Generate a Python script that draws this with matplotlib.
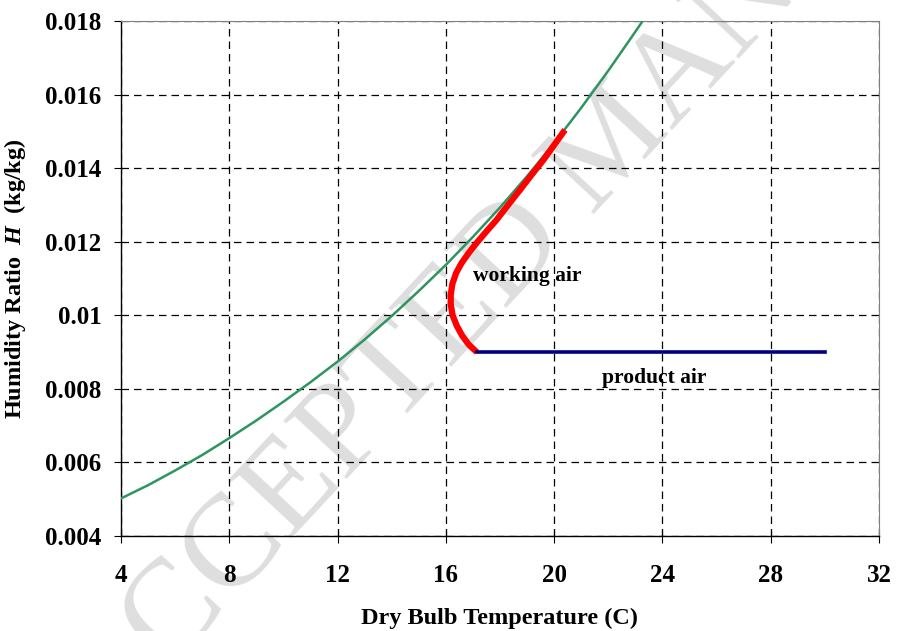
import numpy as np
import matplotlib
matplotlib.use("Agg")
import matplotlib.pyplot as plt

plt.rcParams["font.family"] = ["Liberation Serif", "DejaVu Serif"]
plt.rcParams["font.weight"] = "bold"
plt.rcParams["mathtext.fontset"] = "custom"
plt.rcParams["mathtext.it"] = "Liberation Serif:italic:bold"

# saturation curve
sat_t = [4, 5, 6, 7, 8, 9, 10, 11, 12, 13, 14, 15, 16, 17, 18, 19, 20, 21, 22, 23, 23.27]
sat_h = [0.00502, 0.00538, 0.00578, 0.00620, 0.00666, 0.00714, 0.00765, 0.00818,
         0.00874, 0.00934, 0.00998, 0.01066, 0.01137, 0.01213, 0.01293, 0.01378,
         0.01468, 0.01564, 0.01665, 0.01771, 0.0180]

# working air
work_t = [17.14, 16.85, 16.60, 16.40, 16.25, 16.18, 16.18, 16.24, 16.38, 16.58,
          16.85, 17.14, 17.50, 17.87, 18.30, 18.74, 19.17, 19.60, 20.00, 20.40]
work_h = [0.00900, 0.00920, 0.00945, 0.00972, 0.01000, 0.01030, 0.01055, 0.01085,
          0.01115, 0.01142, 0.01170, 0.01197, 0.01228, 0.01259, 0.01300, 0.01341,
          0.01382, 0.01422, 0.01463, 0.01504]

# product air
prod_t = [17.14, 30.0]
prod_h = [0.009, 0.009]

xticks = [4, 8, 12, 16, 20, 24, 28, 32]
yticks = [0.004, 0.006, 0.008, 0.010, 0.012, 0.014, 0.016, 0.018]
ylabels = ["0.004", "0.006", "0.008", "0.01", "0.012", "0.014", "0.016", "0.018"]

fig = plt.figure(figsize=(9, 6.31), dpi=100)
ax = fig.add_axes([0.1344, 0.1506, 0.8423, 0.8161])
ax.patch.set_visible(False)

# watermark
fig.text(0.683, 0.77, "ACCEPTED MANUSCRIPT", fontsize=95, fontweight="normal",
         color="#dedede", rotation=47, ha="center", va="center",
         rotation_mode="anchor", zorder=-1)

ax.plot(sat_t, sat_h, color="#2e9460", lw=1.8, zorder=3)
ax.plot(work_t, work_h, color="#ff0000", lw=4.5, zorder=4, solid_capstyle="butt")
ax.plot(prod_t, prod_h, color="#000080", lw=2.6, zorder=4)

ax.text(19.0, 0.01107, "working air", fontsize=15.5, fontweight="bold",
        ha="center", va="center", zorder=5)
ax.text(23.7, 0.0083, "product air", fontsize=15.5, fontweight="bold",
        ha="center", va="center", zorder=5)

ax.set_xlim(4, 32)
ax.set_ylim(0.004, 0.018)
ax.set_xticks(xticks)
ax.set_yticks(yticks)
ax.set_yticklabels(ylabels)
ax.grid(True, color="black", ls=(0, (6, 4)), lw=0.9)
ax.set_axisbelow(True)

for s in ("top", "right"):
    ax.spines[s].set_color("#808080")
for s in ("left", "bottom"):
    ax.spines[s].set_color("black")
    ax.spines[s].set_linewidth(1.0)

ax.tick_params(axis="y", direction="out", length=5, labelsize=18, pad=9)
ax.tick_params(axis="x", direction="inout", length=10, labelsize=18, pad=15)
for lab in ax.get_xticklabels() + ax.get_yticklabels():
    lab.set_fontweight("bold")

ax.set_xlabel("Dry Bulb Temperature (C)", fontsize=17.5, fontweight="bold", labelpad=15)
ax.set_ylabel("Humidity Ratio  $\\it{H}$  (kg/kg)", fontsize=17.5, fontweight="bold", labelpad=12)

fig.savefig("out.png", dpi=100)
